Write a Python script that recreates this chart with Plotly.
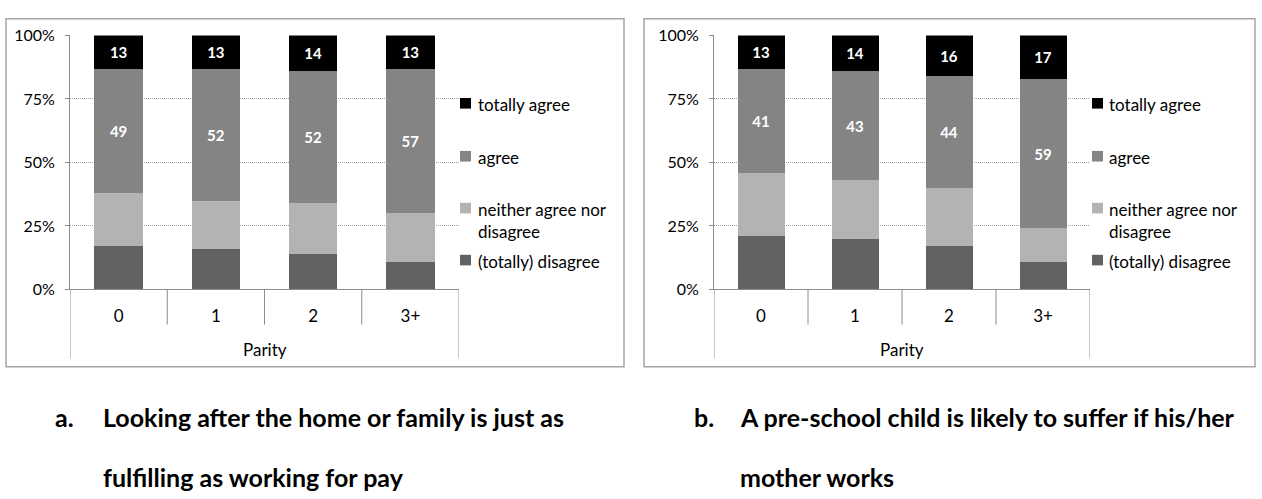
import plotly.graph_objects as go

W, H = 1262, 499

categories = ["0", "1", "2", "3+"]
series_names = ["(totally) disagree", "neither agree nor disagree", "agree", "totally agree"]
legend_labels = ["(totally) disagree", "neither agree nor<br>disagree", "agree", "totally agree"]
series_colors = ["#626262", "#b3b3b3", "#848484", "#000000"]
show_labels = [False, False, True, True]

# Chart a: Looking after the home or family is just as fulfilling as working for pay
a_disagree = [17, 16, 14, 11]
a_neither = [21, 19, 20, 19]
a_agree = [49, 52, 52, 57]
a_totally = [13, 13, 14, 13]

# Chart b: A pre-school child is likely to suffer if his/her mother works
b_disagree = [21, 20, 17, 11]
b_neither = [25, 23, 23, 13]
b_agree = [41, 43, 44, 59]
b_totally = [13, 14, 16, 17]

y_tickvals = [0, 25, 50, 75, 100]
y_ticktext = ["0%", "25%", "50%", "75%", "100%"]
x_title = "Parity"

captions = [
    ("a.", "Looking after the home or family is just as", "fulfilling as working for pay"),
    ("b.", "A pre-school child is likely to suffer if his/her", "mother works"),
]

FONT = "Lato, 'Open Sans', sans-serif"
AXIS_GRAY = "#8c8c8c"
GRID_GRAY = "#a0a0a0"
BORDER_GRAY = "#a6a6a6"


def px(p):
    return p / W


def py(p):
    return 1 - p / H


charts = [
    dict(data=[a_disagree, a_neither, a_agree, a_totally], xa="x", ya="y",
         dom=(70, 459), box=(6, 9, 624, 371), leg_sq=460, leg_tx=476, cap_x=(53, 101)),
    dict(data=[b_disagree, b_neither, b_agree, b_totally], xa="x2", ya="y2",
         dom=(714, 1090), box=(644, 9, 1255, 371), leg_sq=1092, leg_tx=1107, cap_x=(692, 738)),
]

PLOT_TOP, PLOT_BOT = 26.5, 290.5
legend_y = [260, 206, 152, 97]  # centres for series in order bottom -> top

fig = go.Figure()
shapes = []
annotations = []

for ci, ch in enumerate(charts):
    for si, vals in enumerate(ch["data"]):
        fig.add_trace(go.Bar(
            x=categories, y=vals, name=series_names[si],
            marker=dict(color=series_colors[si], line=dict(width=0)),
            text=[str(v) for v in vals] if show_labels[si] else None,
            textposition="inside" if show_labels[si] else "none",
            insidetextanchor="middle", textangle=0,
            textfont=dict(family=FONT, size=15, color="white", weight="bold"),
            xaxis=ch["xa"], yaxis=ch["ya"], showlegend=False, hoverinfo="skip",
        ))

    x0, y0, x1, y1 = ch["box"]
    shapes.append(dict(type="rect", xref="paper", yref="paper",
                       x0=px(x0), x1=px(x1), y0=py(y1), y1=py(y0),
                       line=dict(color=BORDER_GRAY, width=1.5), layer="below"))

    xref = ch["xa"]
    n = len(categories)
    for k in range(n + 1):
        outer = k == 0 or k == n
        shapes.append(dict(type="line", xref=xref, yref="paper",
                           x0=k - 0.5, x1=k - 0.5,
                           y0=py(PLOT_BOT), y1=py(362 if outer else 327),
                           line=dict(color=AXIS_GRAY, width=1)))

    annotations.append(dict(text=x_title, xref=xref + " domain", yref="paper",
                            x=0.5, y=py(353), showarrow=False, xanchor="center",
                            yanchor="middle", font=dict(family=FONT, size=17, color="black")))

    for si in range(len(series_names)):
        cy = legend_y[si]
        shapes.append(dict(type="rect", xref="paper", yref="paper",
                           x0=px(ch["leg_sq"]), x1=px(ch["leg_sq"] + 11),
                           y0=py(cy + 5.5), y1=py(cy - 5.5),
                           fillcolor=series_colors[si], line=dict(width=0)))
        annotations.append(dict(text=legend_labels[si], xref="paper", yref="paper",
                                x=px(ch["leg_tx"]), y=py(cy - 12), showarrow=False,
                                xanchor="left", yanchor="top", align="left",
                                font=dict(family=FONT, size=17, color="black")))

    letter, line1, line2 = captions[ci]
    cx0, cx1 = ch["cap_x"]
    cap_font = dict(family=FONT, size=25, color="black", weight="bold")
    annotations.append(dict(text=letter, xref="paper", yref="paper", x=px(cx0), y=py(423),
                            showarrow=False, xanchor="left", yanchor="middle", font=cap_font))
    annotations.append(dict(text=line1, xref="paper", yref="paper", x=px(cx1), y=py(423),
                            showarrow=False, xanchor="left", yanchor="middle", font=cap_font))
    annotations.append(dict(text=line2, xref="paper", yref="paper", x=px(cx1), y=py(486),
                            showarrow=False, xanchor="left", yanchor="middle", font=cap_font))

common_y = dict(range=[0, 100], tickvals=y_tickvals, ticktext=y_ticktext,
                showgrid=True, gridcolor=GRID_GRAY, griddash="1px,1px", gridwidth=1,
                showline=True, linecolor=AXIS_GRAY, linewidth=1,
                ticks="outside", ticklen=4, tickcolor=AXIS_GRAY,
                zeroline=False, fixedrange=True, ticklabelstandoff=7,
                tickfont=dict(family=FONT, size=16, color="black"),
                domain=[py(PLOT_BOT), py(PLOT_TOP)])
common_x = dict(type="category", showline=True, linecolor=AXIS_GRAY, linewidth=1,
                ticks="", showgrid=False, zeroline=False, fixedrange=True,
                range=[-0.5, len(categories) - 0.5], ticklabelstandoff=11,
                tickfont=dict(family=FONT, size=17, color="black"))

fig.update_layout(
    width=W, height=H, margin=dict(l=0, r=0, t=0, b=0),
    paper_bgcolor="white", plot_bgcolor="white",
    barmode="stack", bargap=0.5,
    font=dict(family=FONT, color="black"),
    xaxis=dict(common_x, domain=[px(70), px(459)], anchor="y"),
    yaxis=dict(common_y, anchor="x"),
    xaxis2=dict(common_x, domain=[px(714), px(1090)], anchor="y2"),
    yaxis2=dict(common_y, anchor="x2"),
    shapes=shapes, annotations=annotations,
    showlegend=False,
)

fig.write_html("out.html", config={"displayModeBar": False})
